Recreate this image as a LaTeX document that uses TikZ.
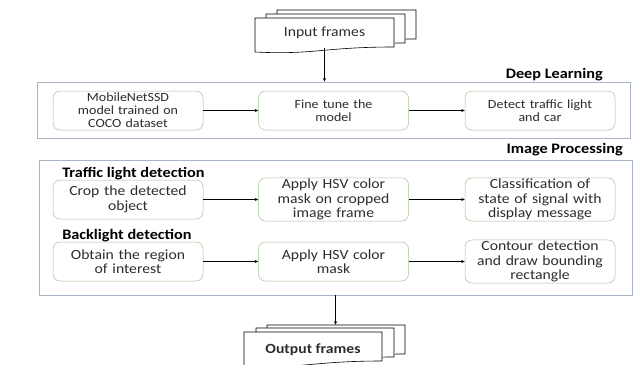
\documentclass[tikz,border=0pt]{standalone}
\usepackage{fontspec}
\setmainfont{Carlito}[FakeStretch=1.12]
\usetikzlibrary{arrows.meta}
\definecolor{panelblue}{RGB}{168,180,202}
\definecolor{stepgreen}{RGB}{160,195,150}
\definecolor{inkgray}{RGB}{45,45,45}
% one sheet of a stacked document: x, y, width (height 34)
\newcommand{\docpage}[3]{%
\draw[fill=white,line width=.6pt] (#1,#2) -- (#1+#3,#2) -- (#1+#3,#2+29)
  .. controls (#1+0.5*#3,#2+29) and (#1+0.42*#3,#2+37) .. (#1,#2+34) -- cycle;}

\begin{document}
\begin{tikzpicture}[x=1pt,y=-1pt,line width=.5pt,text=inkgray,
  stepbox/.style={draw=stepgreen,rounded corners=7pt,fill=white,minimum width=150pt,minimum height=39pt,text width=148pt,align=center,inner sep=1pt,font=\fontsize{12.5}{13}\selectfont},
  ipstep/.style={stepbox,font=\fontsize{14}{14.5}\selectfont},
  panel/.style={draw=panelblue,line width=.8pt,inner sep=0pt},
  title/.style={inner sep=0pt,text=black,font=\bfseries\fontsize{14.5}{16}\selectfont},
  sheet/.style={inner sep=0pt,minimum width=138pt,minimum height=30pt,font=\fontsize{14}{15}\selectfont},
  flow/.style={-{Stealth[length=3.5pt,width=3pt]},line width=.5pt}]
\path[use as bounding box] (0,0) rectangle (637,364);
% input frames
\docpage{277}{10}{139}
\docpage{266}{14}{139}
\docpage{255}{18}{139}
\node[sheet] (infront) at (324.5,33) {Input frames};
% deep learning
\node[panel,minimum width=593pt,minimum height=56pt] (dlbox) at (333.5,110) {};
\node[title,anchor=east] (dltitle) at (603,75) {Deep Learning};
\node[stepbox] (mobnet) at (128,110.5) {MobileNetSSD\\model trained on\\COCO dataset};
\node[stepbox] (finetune) at (333.5,110.5) {Fine tune the\\model};
\node[stepbox] (detect) at (540,110.5) {Detect traffic light\\and car};
% image processing
\node[title,anchor=east] (iptitle) at (623,150) {Image Processing};
\node[panel,minimum width=593pt,minimum height=135pt] (ipbox) at (335.5,227.5) {};
\node[title,anchor=west] (tltitle) at (62,174) {Traffic light detection};
\node[ipstep] (crop) at (128,199.5) {Crop the detected\\object};
\node[ipstep] (hsvcrop) at (333.5,199.5) {Apply HSV color\\mask on cropped\\image frame};
\node[ipstep] (classify) at (540,199.5) {Classification of\\state of signal with\\display message};
\node[title,anchor=west] (bltitle) at (62,236) {Backlight detection};
\node[ipstep] (roi) at (128,261.5) {Obtain the region\\of interest};
\node[ipstep] (hsvmask) at (333.5,261.5) {Apply HSV color\\mask};
\node[ipstep] (contour) at (540,261.5) {Contour detection\\and draw bounding\\rectangle};
% output frames
\docpage{267}{325}{138}
\docpage{256}{328}{138}
\docpage{244}{332}{138}
\node[sheet,minimum height=34pt] (outback) at (336,342) {};
\node[sheet,font=\bfseries\fontsize{14}{15}\selectfont] (outfront) at (313,350) {Output frames};
% connectors
\draw[flow] (infront.south) -- (infront.south |- dlbox.north);
\draw[flow] (mobnet) -- (finetune);
\draw[flow] (finetune) -- (detect);
\draw[flow] (crop) -- (hsvcrop);
\draw[flow] (hsvcrop) -- (classify);
\draw[flow] (roi) -- (hsvmask);
\draw[flow] (hsvmask) -- (contour);
\draw[flow] (ipbox.south) -- (ipbox.south |- outback.north);
\end{tikzpicture}
\end{document}
